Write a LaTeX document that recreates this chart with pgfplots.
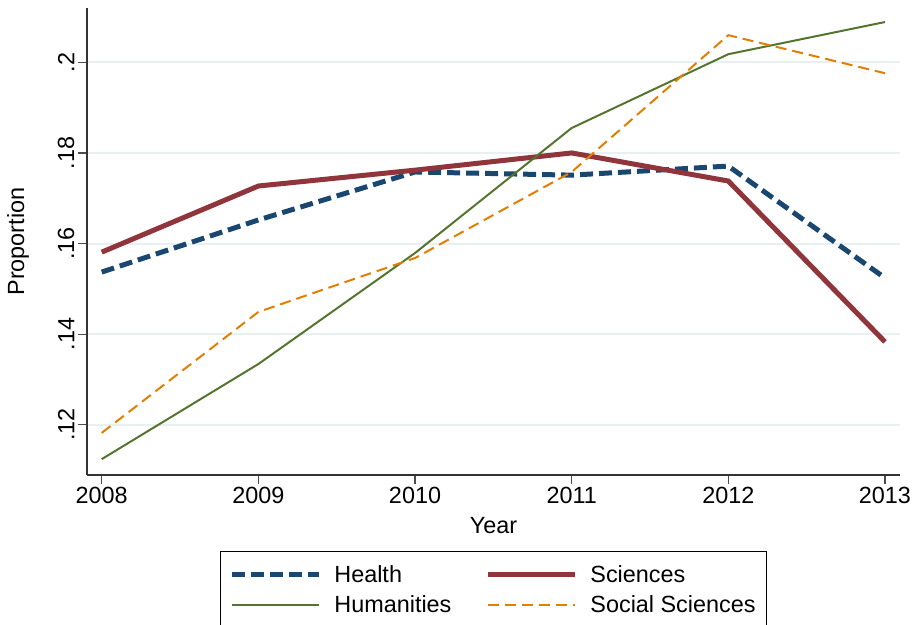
\documentclass[border=0pt]{standalone}
\usepackage{fontspec}
\setmainfont{Liberation Sans}
\usepackage{pgfplots}
\pgfplotsset{compat=1.18}

\definecolor{healthc}{RGB}{26,71,111}
\definecolor{sciencec}{RGB}{144,53,59}
\definecolor{humc}{RGB}{85,117,47}
\definecolor{socc}{RGB}{227,126,0}
\definecolor{gridc}{RGB}{232,240,242}

\newcommand{\chartfont}{\fontsize{23.4}{27}\selectfont}

\begin{document}
\begin{tikzpicture}[x=1pt,y=1pt]
\useasboundingbox (0,0) rectangle (918,624);
\begin{axis}[
  at={(87pt,149pt)}, anchor=south west,
  scale only axis, width=813pt, height=467pt,
  xmin=2007.906, xmax=2013.096,
  ymin=0.1089, ymax=0.2120,
  axis lines*=left,
  axis line style={color=black!80, line width=1.2pt},
  xtick={2008,2009,2010,2011,2012,2013},
  xticklabels={2008,2009,2010,2011,2012,2013},
  ytick={0.12,0.14,0.16,0.18,0.2},
  yticklabels={.12,.14,.16,.18,.2},
  yticklabel style={rotate=90, anchor=south},
  tick align=outside,
  major tick length=9pt,
  tick style={color=black!70, line width=1.2pt},
  ymajorgrids,
  grid style={color=gridc, line width=2pt},
  ticklabel style={font=\chartfont},
  label style={font=\chartfont},
  xlabel={Year},
  ylabel={Proportion},
  xlabel style={anchor=center, at={(axis description cs:0.5,-0.109)}},
  ylabel style={anchor=center, at={(axis description cs:-0.0849,0.5)}},
  legend columns=2,
  legend cell align=left,
  legend image code/.code={\draw[#1] (0pt,0pt) -- (87pt,0pt);},
  legend style={
    font=\chartfont,
    draw=black, line width=1pt,
    at={(axis description cs:0.5,-0.1627)}, anchor=north,
    inner xsep=9pt, inner ysep=12pt,
    row sep=8pt,
    /tikz/every odd column/.append style={column sep=11pt},
    /tikz/every even column/.append style={column sep=32pt},
  },
]
\addplot[healthc, line width=5pt, dash pattern=on 13pt off 6pt] coordinates {
  (2008,0.1537) (2009,0.1652) (2010,0.1758) (2011,0.1751) (2012,0.1771) (2013,0.1524)
};
\addlegendentry{Health}
\addplot[sciencec, line width=5pt] coordinates {
  (2008,0.1581) (2009,0.1727) (2010,0.1762) (2011,0.1800) (2012,0.1738) (2013,0.1383)
};
\addlegendentry{Sciences}
\addplot[humc, line width=2pt] coordinates {
  (2008,0.1124) (2009,0.1334) (2010,0.1579) (2011,0.1855) (2012,0.2018) (2013,0.2089)
};
\addlegendentry{Humanities}
\addplot[socc, line width=2pt, dash pattern=on 11pt off 6pt] coordinates {
  (2008,0.1182) (2009,0.1449) (2010,0.1568) (2011,0.1758) (2012,0.2060) (2013,0.1976)
};
\addlegendentry{Social Sciences}
\end{axis}
\end{tikzpicture}
\end{document}
